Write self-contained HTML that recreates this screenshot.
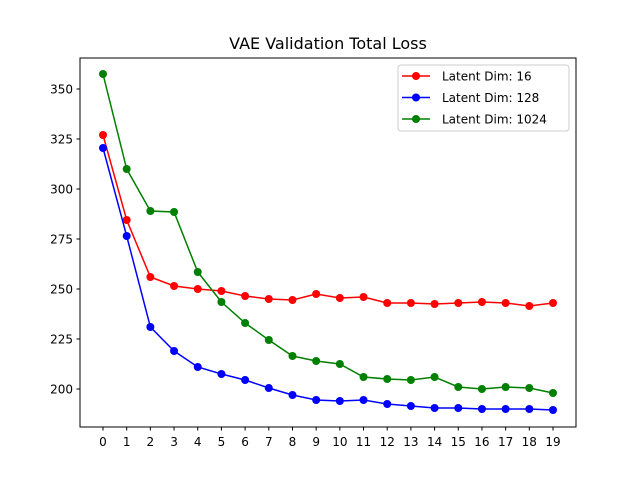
<!DOCTYPE html>
<html><head><meta charset="utf-8"><style>
body{margin:0;background:#fff;}
svg text{font-family:"DejaVu Sans","Liberation Sans",sans-serif;}
</style></head><body>
<svg id="chart" width="640" height="480" viewBox="0 0 640 480">
<rect width="640" height="480" fill="#fff"/>
<text x="328" y="49" text-anchor="middle" font-size="16" fill="#000">VAE Validation Total Loss</text>
<g id="ticks"></g>
<g id="series"></g>
<rect x="80" y="58" width="496" height="369" fill="none" stroke="#000" stroke-width="1"/>
<g id="legend">
<rect x="398" y="65" width="171" height="66" rx="3" fill="#fff" fill-opacity="0.8" stroke="#ccc"/>
</g>
</svg>
<script>
const epochs=[0,1,2,3,4,5,6,7,8,9,10,11,12,13,14,15,16,17,18,19];
const yTicks=[200,225,250,275,300,325,350];
const seriesNames=["Latent Dim: 16","Latent Dim: 128","Latent Dim: 1024"];
const seriesColors=["#ff0000","#0000ff","#008000"];
const dim16=[327,284.5,256,251.5,250,249,246.5,245,244.5,247.5,245.5,246,243,243,242.5,243,243.5,243,241.5,243];
const dim128=[320.5,276.5,231,219,211,207.5,204.5,200.5,197,194.5,194,194.5,192.5,191.5,190.5,190.5,190,190,190,189.5];
const dim1024=[357.5,310,289,288.5,258.5,243.5,233,224.5,216.5,214,212.5,206,205,204.5,206,201,200,201,200.5,198];
const allSeries=[dim16,dim128,dim1024];
const NS="http://www.w3.org/2000/svg";
const xS=i=>103+i*(450/19);
const yS=v=>389-(v-200)*2;
function mk(tag,attrs,parent){const e=document.createElementNS(NS,tag);for(const k in attrs)e.setAttribute(k,attrs[k]);parent.appendChild(e);return e;}
const tg=document.getElementById('ticks');
epochs.forEach(d=>{const x=xS(d);
 const l=mk('line',{x1:x,x2:x,y1:427,y2:430.5,stroke:'#000'},tg);
 
 
 const t=mk('text',{x:x,y:446,'text-anchor':'middle','font-size':'12'},tg);t.textContent=d;
 
 
});
yTicks.forEach(v=>{const y=yS(v);
 const l=mk('line',{x1:76.5,x2:80,y1:y,y2:y,stroke:'#000'},tg);
 
 
 const t=mk('text',{x:73,y:y+4.5,'text-anchor':'end','font-size':'12'},tg);t.textContent=v;
 
 
});
const sg=document.getElementById('series');
allSeries.forEach((s,k)=>{
 const g=mk('g',{},sg);
 
 
 const p=mk('polyline',{points:s.map((v,i)=>xS(epochs[i])+','+yS(v)).join(' '),fill:'none',stroke:seriesColors[k],'stroke-width':1.5},g);
 
 
 s.forEach((v,i)=>{const c=mk('circle',{cx:xS(epochs[i]),cy:yS(v),r:4,fill:seriesColors[k]},g);
  
  });
});
const lg=document.getElementById('legend');
seriesNames.forEach((n,k)=>{const y=76+k*21.5;
 const l=mk('line',{x1:402,x2:430,y1:y,y2:y,stroke:seriesColors[k],'stroke-width':1.5},lg);
 
 
 const c=mk('circle',{cx:416,cy:y,r:4,fill:seriesColors[k]},lg);
 
 
 const t=mk('text',{x:442,y:y+4.5,'font-size':'12'},lg);t.textContent=n;
 
 
});
</script>
</body></html>
